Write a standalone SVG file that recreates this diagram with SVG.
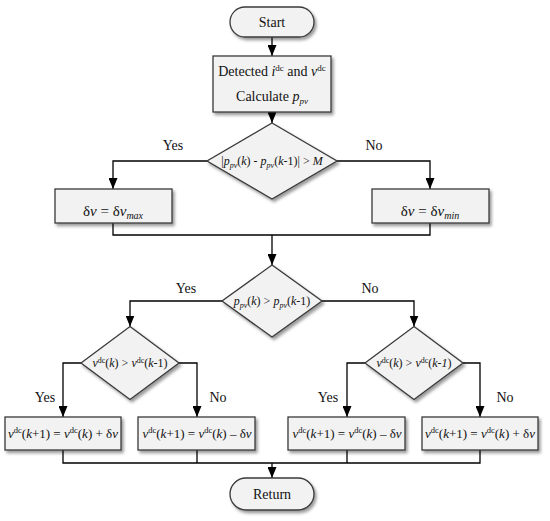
<svg xmlns="http://www.w3.org/2000/svg" width="550" height="521" viewBox="0 0 550 521" font-family="Liberation Serif">
<style>
.shape{fill:#f2f2f2;stroke:#3a3a3a;stroke-width:1.3;filter:url(#sh)}
.conn{fill:none;stroke:#000;stroke-width:1.3}
.tx{fill:#111;text-anchor:middle}
.t14{font-size:14px}
.t15{font-size:15px}
.t13{font-size:13px}
.t12{font-size:12px}
.i{font-style:italic}
</style>
<defs>
<filter id="sh" x="-10%" y="-10%" width="125%" height="135%">
<feDropShadow dx="2" dy="2.5" stdDeviation="1.5" flood-color="#000" flood-opacity="0.4"/>
</filter>
<marker id="ah" markerUnits="userSpaceOnUse" markerWidth="9" markerHeight="11" refX="4.5" refY="11" orient="0" viewBox="0 0 9 11">
<path d="M0,0 L9,0 L4.5,11 Z" fill="#000"/>
</marker>
</defs>

<g id="connectors">
<path class="conn" d="M272,37 V56" marker-end="url(#ah)"/>
<path class="conn" d="M272,112 V123" marker-end="url(#ah)"/>
<path class="conn" d="M207,161 H113 V189" marker-end="url(#ah)"/>
<path class="conn" d="M337,161 H430 V189" marker-end="url(#ah)"/>
<path class="conn" d="M113,223 V235 H430 V223"/>
<path class="conn" d="M272,235 V265" marker-end="url(#ah)"/>
<path class="conn" d="M222,301 H130 V326.5" marker-end="url(#ah)"/>
<path class="conn" d="M322,301 H414 V326.5" marker-end="url(#ah)"/>
<path class="conn" d="M81,363 H63 V417" marker-end="url(#ah)"/>
<path class="conn" d="M179,363 H197 V417" marker-end="url(#ah)"/>
<path class="conn" d="M365,363 H347 V417" marker-end="url(#ah)"/>
<path class="conn" d="M463,363 H480 V417" marker-end="url(#ah)"/>
<path class="conn" d="M63,450 V463 H480 V450 M197,450 V463 M347,450 V463"/>
<path class="conn" d="M272,463 V478" marker-end="url(#ah)"/>
</g>

<g id="labels">
<text font-family="Liberation Serif" class="tx t14" x="173" y="150">Yes</text>
<text font-family="Liberation Serif" class="tx t14" x="374" y="150">No</text>
<text font-family="Liberation Serif" class="tx t14" x="186" y="293">Yes</text>
<text font-family="Liberation Serif" class="tx t14" x="370" y="293">No</text>
<text font-family="Liberation Serif" class="tx t14" x="45" y="402">Yes</text>
<text font-family="Liberation Serif" class="tx t14" x="218" y="402">No</text>
<text font-family="Liberation Serif" class="tx t14" x="328" y="402">Yes</text>
<text font-family="Liberation Serif" class="tx t14" x="505" y="402">No</text>
</g>

<g id="start">
<rect class="shape" x="230" y="7" width="84" height="30" rx="15"/>
<text font-family="Liberation Serif" class="tx t14" x="272" y="27">Start</text>
</g>

<g id="detect">
<rect class="shape" x="213" y="56" width="118" height="56"/>
<text font-family="Liberation Serif" class="tx t14" x="272" y="76">Detected <tspan class="i">i</tspan><tspan font-size="9" dy="-5">dc</tspan><tspan dy="5"> and </tspan><tspan class="i">v</tspan><tspan font-size="9" dy="-5">dc</tspan></text>
<text font-family="Liberation Serif" class="tx t14" x="272" y="101">Calculate <tspan class="i">p</tspan><tspan class="i" font-size="9" dy="3">pv</tspan></text>
</g>

<g id="decision1">
<polygon class="shape" points="272,123 337,161 272,199 207,161"/>
<text font-family="Liberation Serif" class="tx t12" x="272" y="165">|<tspan class="i">p</tspan><tspan class="i" font-size="8" dy="2.5">pv</tspan><tspan dy="-2.5">(</tspan><tspan class="i">k</tspan>) - <tspan class="i">p</tspan><tspan class="i" font-size="8" dy="2.5">pv</tspan><tspan dy="-2.5">(</tspan><tspan class="i">k</tspan>-1)| &gt; <tspan class="i">M</tspan></text>
</g>

<g id="dvmax">
<rect class="shape" x="55" y="189" width="117" height="34"/>
<text font-family="Liberation Serif" class="tx t15" x="113" y="216">δ<tspan class="i">v</tspan> = δ<tspan class="i">v</tspan><tspan class="i" font-size="10" dy="3">max</tspan></text>
</g>

<g id="dvmin">
<rect class="shape" x="372" y="189" width="117" height="34"/>
<text font-family="Liberation Serif" class="tx t15" x="430" y="216">δ<tspan class="i">v</tspan> = δ<tspan class="i">v</tspan><tspan class="i" font-size="10" dy="3">min</tspan></text>
</g>

<g id="decision2">
<polygon class="shape" points="272,265 322,301 272,337 222,301"/>
<text font-family="Liberation Serif" class="tx t12" x="272" y="305"><tspan class="i">p</tspan><tspan class="i" font-size="8" dy="2.5">pv</tspan><tspan dy="-2.5">(</tspan><tspan class="i">k</tspan>) &gt; <tspan class="i">p</tspan><tspan class="i" font-size="8" dy="2.5">pv</tspan><tspan dy="-2.5">(</tspan><tspan class="i">k</tspan>-1)</text>
</g>

<g id="decision3">
<polygon class="shape" points="130,326.5 179,363 130,399.5 81,363"/>
<text font-family="Liberation Serif" class="tx t12" x="130" y="367"><tspan class="i">v</tspan><tspan font-size="8" dy="-4.5">dc</tspan><tspan dy="4.5">(</tspan><tspan class="i">k</tspan>) &gt; <tspan class="i">v</tspan><tspan font-size="8" dy="-4.5">dc</tspan><tspan dy="4.5">(</tspan><tspan class="i">k</tspan>-1)</text>
</g>

<g id="decision4">
<polygon class="shape" points="414,326.5 463,363 414,399.5 365,363"/>
<text font-family="Liberation Serif" class="tx t12" x="414" y="367"><tspan class="i">v</tspan><tspan font-size="8" dy="-4.5">dc</tspan><tspan dy="4.5">(</tspan><tspan class="i">k</tspan>) &gt; <tspan class="i">v</tspan><tspan font-size="8" dy="-4.5">dc</tspan><tspan dy="4.5">(</tspan><tspan class="i">k-1</tspan>)</text>
</g>

<g id="update1">
<rect class="shape" x="5" y="417" width="116" height="33"/>
<text font-family="Liberation Serif" class="tx t13" x="63" y="438"><tspan class="i">v</tspan><tspan font-size="8.5" dy="-5">dc</tspan><tspan dy="5">(</tspan><tspan class="i">k</tspan>+1) = <tspan class="i">v</tspan><tspan font-size="8.5" dy="-5">dc</tspan><tspan dy="5">(</tspan><tspan class="i">k</tspan>) + δ<tspan class="i">v</tspan></text>
</g>

<g id="update2">
<rect class="shape" x="138" y="417" width="117" height="33"/>
<text font-family="Liberation Serif" class="tx t13" x="197" y="438"><tspan class="i">v</tspan><tspan font-size="8.5" dy="-5">dc</tspan><tspan dy="5">(</tspan><tspan class="i">k</tspan>+1) = <tspan class="i">v</tspan><tspan font-size="8.5" dy="-5">dc</tspan><tspan dy="5">(</tspan><tspan class="i">k</tspan>) – δ<tspan class="i">v</tspan></text>
</g>

<g id="update3">
<rect class="shape" x="288" y="417" width="117" height="33"/>
<text font-family="Liberation Serif" class="tx t13" x="347" y="438"><tspan class="i">v</tspan><tspan font-size="8.5" dy="-5">dc</tspan><tspan dy="5">(</tspan><tspan class="i">k</tspan>+1) = <tspan class="i">v</tspan><tspan font-size="8.5" dy="-5">dc</tspan><tspan dy="5">(</tspan><tspan class="i">k</tspan>) – δ<tspan class="i">v</tspan></text>
</g>

<g id="update4">
<rect class="shape" x="422" y="417" width="116" height="33"/>
<text font-family="Liberation Serif" class="tx t13" x="480" y="438"><tspan class="i">v</tspan><tspan font-size="8.5" dy="-5">dc</tspan><tspan dy="5">(</tspan><tspan class="i">k</tspan>+1) = <tspan class="i">v</tspan><tspan font-size="8.5" dy="-5">dc</tspan><tspan dy="5">(</tspan><tspan class="i">k</tspan>) + δ<tspan class="i">v</tspan></text>
</g>

<g id="return">
<rect class="shape" x="230" y="478" width="84" height="32" rx="16"/>
<text font-family="Liberation Serif" class="tx t14" x="272" y="499">Return</text>
</g>
</svg>
